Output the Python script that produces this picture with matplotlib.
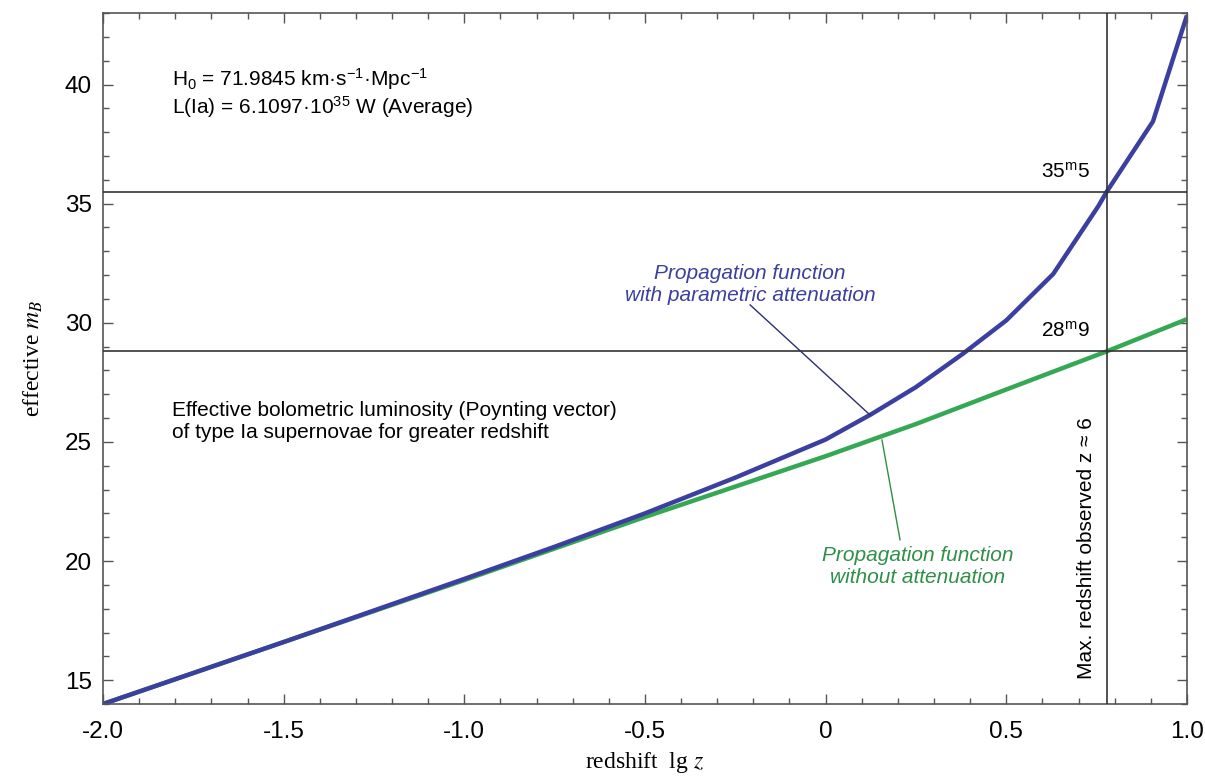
import matplotlib
matplotlib.use('Agg')
import matplotlib.pyplot as plt
from matplotlib.ticker import MultipleLocator, FixedLocator

plt.rcParams['font.family'] = ['Liberation Sans', 'DejaVu Sans']
plt.rcParams['mathtext.fontset'] = 'custom'
plt.rcParams['mathtext.rm'] = 'Liberation Sans'
plt.rcParams['mathtext.it'] = 'Liberation Sans:italic'
plt.rcParams['mathtext.bf'] = 'Liberation Sans:bold'

# redshift lg z and effective magnitude
lgz_plain = [-2.0, -1.5, -1.0, -0.5, 0.0, 0.25, 0.5, 0.778, 1.0]
mb_plain = [14.0, 16.6, 19.2, 21.85, 24.4, 25.75, 27.2, 28.8, 30.15]

lgz_atten = [-2.0, -1.5, -1.0, -0.75, -0.5, -0.25, 0.0, 0.125, 0.25, 0.38,
             0.5, 0.63, 0.755, 0.778, 0.906, 1.0]
mb_atten = [14.0, 16.6, 19.25, 20.6, 22.0, 23.5, 25.1, 26.15, 27.3, 28.7,
            30.1, 32.05, 34.9, 35.5, 38.45, 42.9]

lgz_max = 0.778      # lg 6
mb_atten_max = 35.5
mb_plain_max = 28.8

xticks = [-2.0, -1.5, -1.0, -0.5, 0.0, 0.5, 1.0]
xtick_labels = ['-2.0', '-1.5', '-1.0', '-0.5', '0', '0.5', '1.0']
yticks = [15, 20, 25, 30, 35, 40]

blue = '#3b3f9f'
green = '#35a853'
green_txt = '#2f8f47'
ref = '#333333'
fs = 15

fig = plt.figure(figsize=(12.05, 7.76), dpi=100)
ax = fig.add_axes([0.0855, 0.0928, 0.8995, 0.8904])

ax.plot(lgz_plain, mb_plain, color=green, lw=3.2, zorder=2, solid_capstyle='butt')
ax.plot(lgz_atten, mb_atten, color=blue, lw=3.2, zorder=2.5, solid_capstyle='butt')

# reference lines
ax.axhline(mb_atten_max, color=ref, lw=1.2, zorder=3)
ax.axhline(mb_plain_max, color=ref, lw=1.2, zorder=3)
ax.axvline(lgz_max, color=ref, lw=1.2, zorder=3)

ax.set_xlim(-2.0, 1.0)
ax.set_ylim(14.0, 43.0)

ax.xaxis.set_major_locator(FixedLocator(xticks))
ax.set_xticklabels(xtick_labels)
ax.xaxis.set_minor_locator(MultipleLocator(0.1))
ax.yaxis.set_major_locator(FixedLocator(yticks))
ax.yaxis.set_minor_locator(MultipleLocator(1))

ax.tick_params(which='both', direction='in', top=True, right=True, color='#555555', width=1.0)
ax.tick_params(which='major', length=7, labelsize=17.5)
ax.tick_params(axis='x', which='major', pad=12)
ax.tick_params(axis='y', which='major', pad=8)
ax.tick_params(which='minor', length=4.5)
for s in ax.spines.values():
    s.set_color('#555555')
    s.set_linewidth(1.2)

ax.set_xlabel(r'redshift  lg $z$', fontsize=17, family='Liberation Serif',
              math_fontfamily='stix', labelpad=5)
ax.set_ylabel(r'effective $m_B$', fontsize=17, family='Liberation Serif',
              math_fontfamily='stix', labelpad=14)

# annotations
ax.text(-1.809, 40.25, r'H$_0$ = 71.9845 km·s$^{-1}$·Mpc$^{-1}$', fontsize=fs,
        ha='left', va='center')
ax.text(-1.809, 39.05, r'L(Ia) = 6.1097·10$^{35}$ W (Average)', fontsize=fs,
        ha='left', va='center')
ax.text(-1.809, 25.85, 'Effective bolometric luminosity (Poynting vector)\n'
        'of type Ia supernovae for greater redshift', fontsize=fs,
        ha='left', va='center', linespacing=1.2)

ax.text(0.732, 36.1, r'35$^{\rm m}$5', fontsize=fs, ha='right', va='baseline')
ax.text(0.732, 29.4, r'28$^{\rm m}$9', fontsize=fs, ha='right', va='baseline')

ax.text(0.722, 20.55, 'Max. redshift observed z ≈ 6', fontsize=fs, rotation=90,
        ha='center', va='center')

ax.text(-0.209, 31.6, 'Propagation function\nwith parametric attenuation',
        fontsize=fs, style='italic', color=blue, ha='center', va='center',
        linespacing=1.2)
ax.plot([-0.209, 0.123], [30.75, 26.13], color='#2b2f70', lw=1.0, zorder=3)

ax.text(0.255, 19.75, 'Propagation function\nwithout attenuation',
        fontsize=fs, style='italic', color=green_txt, ha='center', va='center',
        linespacing=1.2)
ax.plot([0.156, 0.206], [25.08, 20.89], color=green_txt, lw=1.0, zorder=3)

fig.savefig('out.png', dpi=100)
